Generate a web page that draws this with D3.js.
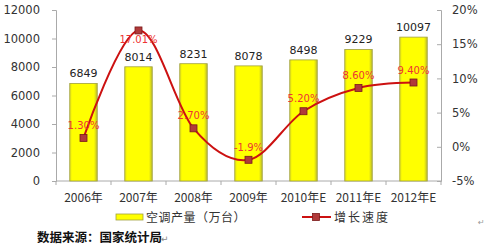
<!DOCTYPE html>
<html>
<head>
<meta charset="utf-8">
<script src="https://cdn.jsdelivr.net/npm/d3@7"></script>
<style>
  body { margin: 0; background: #fff; }
  svg text { font-family: "DejaVu Sans", Verdana, sans-serif; }
  .cjk { font-family: "Noto Sans CJK SC", sans-serif; }
</style>
</head>
<body>
<svg id="chart" width="484" height="248"></svg>
<script>
// Data
const years = ['2006年', '2007年', '2008年', '2009年', '2010年E', '2011年E', '2012年E']
const output = [6849, 8014, 8231, 8078, 8498, 9229, 10097]
const growth = [1.30, 17.01, 2.70, -1.9, 5.20, 8.60, 9.40]
const growthLabels = ['1.30%', '17.01%', '2.70%', '-1.9%', '5.20%', '8.60%', '9.40%']
const leftTicks = [0, 2000, 4000, 6000, 8000, 10000, 12000]
const rightTicks = [-5, 0, 5, 10, 15, 20]

const svg = d3.select('#chart')

// Plot edges
const plotLeft = 56, plotRight = 441, plotTop = 10, plotBottom = 181

const x = d3.scaleBand().domain(years).range([plotLeft, plotRight]).paddingInner(0.5).paddingOuter(0.25)
const yL = d3.scaleLinear().domain([0, 12000]).range([plotBottom, plotTop])
const yR = d3.scaleLinear().domain([-5, 20]).range([plotBottom, plotTop])
const xc = d => x(d) + x.bandwidth() / 2

// Bar gradient
const defs = svg.append('defs')
const grad = defs.append('linearGradient').attr('id', 'barGrad').attr('x1', 0).attr('x2', 1).attr('y1', 0).attr('y2', 0)
grad.append('stop').attr('offset', '0%').attr('stop-color', '#d8d820')
grad.append('stop').attr('offset', '8%').attr('stop-color', '#ffff00')
grad.append('stop').attr('offset', '88%').attr('stop-color', '#ffff00')
grad.append('stop').attr('offset', '100%').attr('stop-color', '#b8b830')

// Left axis
const leftAxis = svg.append('g')
    .attr('transform', 'translate(' + plotLeft + ',0)')
    .call(d3.axisLeft(yL).tickValues(leftTicks).tickFormat(d3.format('d')).tickSize(4).tickPadding(12))
leftAxis.select('.domain').attr('stroke', '#aaa')
leftAxis.selectAll('.tick line').attr('stroke', '#aaa')
leftAxis.selectAll('text').attr('font-size', 11.5).attr('fill', '#333')
    .attr('font-family', '"DejaVu Sans", sans-serif')

// Right axis (ticks pointing inward)
const rightAxis = svg.append('g')
    .attr('transform', 'translate(' + plotRight + ',0)')
    .call(d3.axisRight(yR).tickValues(rightTicks).tickFormat(d => d + '%').tickSize(-4).tickPadding(11))
rightAxis.select('.domain').attr('stroke', '#aaa')
rightAxis.selectAll('.tick line').attr('stroke', '#aaa')
rightAxis.selectAll('text').attr('font-size', 11.5).attr('fill', '#333')
    .attr('font-family', '"DejaVu Sans", sans-serif')

// Bottom axis
svg.append('line')
    .attr('x1', plotLeft).attr('x2', plotRight)
    .attr('y1', plotBottom).attr('y2', plotBottom)
    .attr('stroke', '#aaa')
svg.append('g').selectAll('line.xtick')
    .data(d3.range(years.length + 1))
    .join('line')
    .attr('x1', i => plotLeft + i * (plotRight - plotLeft) / years.length)
    .attr('x2', i => plotLeft + i * (plotRight - plotLeft) / years.length)
    .attr('y1', plotBottom).attr('y2', plotBottom + 4)
    .attr('stroke', '#aaa')

svg.append('g').selectAll('text.xlab')
    .data(years)
    .join('text')
    .attr('class', 'cjk')
    .attr('x', d => xc(d))
    .attr('y', 202)
    .attr('text-anchor', 'middle')
    .attr('font-size', 12)
    .attr('fill', '#333')
    .text(d => d)

// Bars
svg.append('g').selectAll('rect.bar')
    .data(output)
    .join('rect')
    .attr('x', (_, i) => x(years[i]))
    .attr('y', d => yL(d))
    .attr('width', x.bandwidth())
    .attr('height', d => plotBottom - yL(d))
    .attr('fill', 'url(#barGrad)')
    .attr('stroke', '#a0a040')
    .attr('stroke-width', 0.8)

svg.append('g').selectAll('text.barlab')
    .data(output)
    .join('text')
    .attr('x', (_, i) => xc(years[i]))
    .attr('y', d => yL(d) - 6)
    .attr('text-anchor', 'middle')
    .attr('font-size', 11)
    .attr('fill', '#222')
    .text(d => d)

// Growth line
const line = d3.line()
    .x((_, i) => xc(years[i]))
    .y(d => yR(d))
    .curve(d3.curveCardinal.tension(0))

svg.append('path')
    .datum(growth)
    .attr('d', line)
    .attr('fill', 'none')
    .attr('stroke', '#cc1111')
    .attr('stroke-width', 2)

svg.append('g').selectAll('rect.marker')
    .data(growth)
    .join('rect')
    .attr('x', (_, i) => xc(years[i]) - 3.5)
    .attr('y', d => yR(d) - 3.5)
    .attr('width', 7).attr('height', 7)
    .attr('fill', '#b03a3a')
    .attr('stroke', '#7a1a1a')
    .attr('stroke-width', 0.8)

// label offsets: 17.01% sits below its marker, the rest above
const labelDy = [-9, 13, -9, -9, -9, -9, -9]
svg.append('g').selectAll('text.growlab')
    .data(growth)
    .join('text')
    .attr('x', (_, i) => xc(years[i]))
    .attr('y', (d, i) => yR(d) + labelDy[i])
    .attr('text-anchor', 'middle')
    .attr('font-size', 10)
    .attr('fill', '#ee3333')
    .text((_, i) => growthLabels[i])

// Legend
svg.append('rect')
    .attr('x', 116).attr('y', 214).attr('width', 27).attr('height', 6)
    .attr('fill', '#ffff00').attr('stroke', '#a0a040').attr('stroke-width', 0.8)
svg.append('text')
    .attr('class', 'cjk')
    .attr('x', 146).attr('y', 221.5)
    .attr('font-size', 12).attr('fill', '#333')
    .attr('letter-spacing', 0.5)
    .text('空调产量（万台）')

svg.append('line')
    .attr('x1', 302).attr('x2', 331).attr('y1', 217).attr('y2', 217)
    .attr('stroke', '#cc1111').attr('stroke-width', 2)
svg.append('rect')
    .attr('x', 312.5).attr('y', 213.5).attr('width', 7).attr('height', 7)
    .attr('fill', '#b03a3a').attr('stroke', '#7a1a1a').attr('stroke-width', 0.8)
svg.append('text')
    .attr('class', 'cjk')
    .attr('x', 334).attr('y', 221.5)
    .attr('font-size', 12).attr('fill', '#333')
    .attr('letter-spacing', 2)
    .text('增长速度')

// Source note
svg.append('text')
    .attr('class', 'cjk')
    .attr('x', 37).attr('y', 242)
    .attr('font-size', 12.5).attr('font-weight', 'bold').attr('fill', '#111')
    .text('数据来源：国家统计局')
svg.append('text')
    .attr('x', 161).attr('y', 242)
    .attr('font-size', 9).attr('fill', '#888')
    .text('↵')
svg.append('text')
    .attr('x', 478).attr('y', 225)
    .attr('font-size', 8).attr('fill', '#999')
    .text('↵')
</script>
</body>
</html>
